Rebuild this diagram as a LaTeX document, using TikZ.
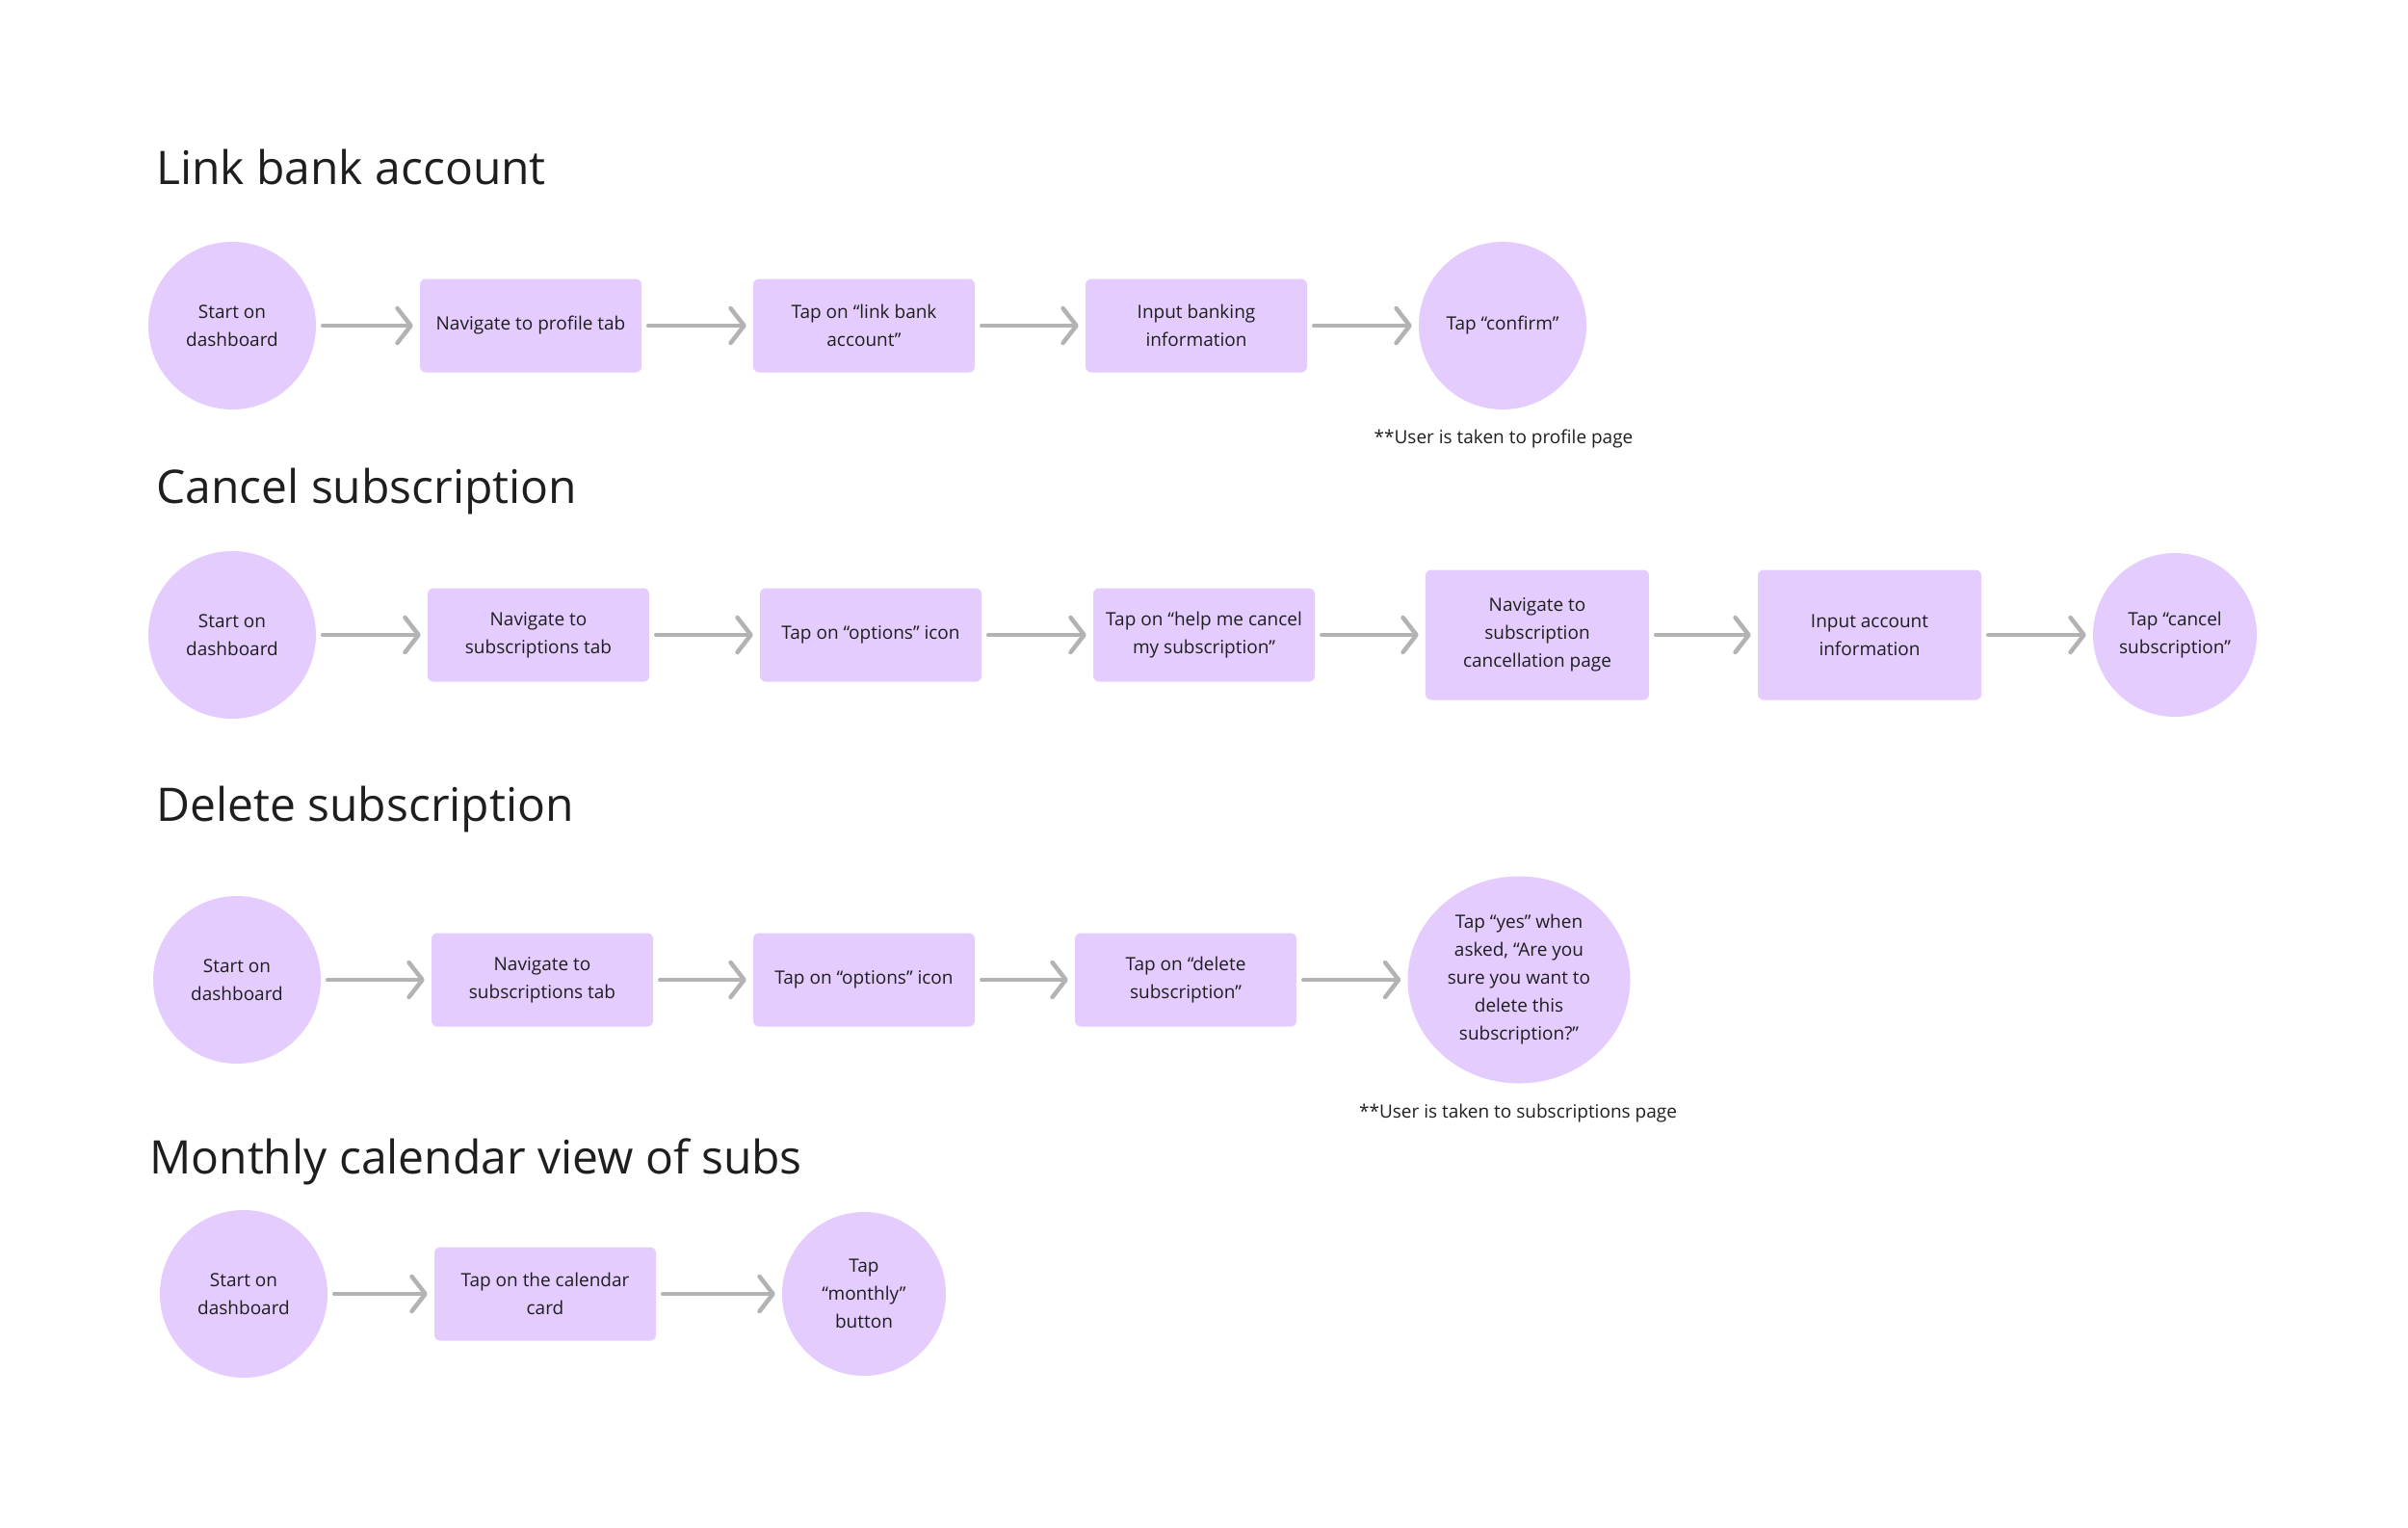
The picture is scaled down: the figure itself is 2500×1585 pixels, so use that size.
\documentclass[tikz,border=0pt]{standalone}
\usepackage{fontspec}
\setmainfont{Open Sans}
\usetikzlibrary{arrows.meta, shapes.geometric}

\definecolor{stepfill}{HTML}{E4CCFF}
\definecolor{flowgray}{HTML}{B3B3B3}
\definecolor{inktext}{HTML}{1E1E1E}

\tikzset{
    startnode/.style={circle, fill=stepfill, minimum size=174pt, inner sep=0pt,
        align=center, text=inktext, font=\fontsize{19}{29}\selectfont},
    boxnode/.style={rectangle, rounded corners=6pt, fill=stepfill, minimum width=230pt,
        minimum height=97pt, inner sep=0pt, align=center, text=inktext,
        font=\fontsize{19}{29}\selectfont},
    flow/.style={draw=flowgray, line width=4.5pt, line cap=round,
        -{Straight Barb[length=14pt, width=36pt, round]}, shorten <=7pt, shorten >=7pt},
    heading/.style={anchor=base west, inner sep=0pt, text=inktext,
        font=\fontsize{48}{52}\selectfont},
    remark/.style={inner sep=0pt, text=inktext, font=\fontsize{19}{24}\selectfont}
}

\begin{document}
\begin{tikzpicture}[x=1pt, y=-1pt]
    \useasboundingbox (0,0) rectangle (2500,1585);

    % Link bank account
    \node[heading] (hlink) at (162,191) {Link bank account};
    \node[startnode] (l1) at (241,338) {Start on\\dashboard};
    \node[boxnode] (l2) at (551,338) {Navigate to profile tab};
    \node[boxnode] (l3) at (897,338) {Tap on “link bank\\account”};
    \node[boxnode] (l4) at (1242,338) {Input banking\\information};
    \node[startnode] (l5) at (1560,338) {Tap “confirm”};
    \node[remark] (nlink) at (1561,456) {**User is taken to profile page};
    \draw[flow] (l1) -- (l2);
    \draw[flow] (l2) -- (l3);
    \draw[flow] (l3) -- (l4);
    \draw[flow] (l4) -- (l5);

    % Cancel subscription
    \node[heading] (hcancel) at (162,522) {Cancel subscription};
    \node[startnode] (c1) at (241,659) {Start on\\dashboard};
    \node[boxnode] (c2) at (559,659) {Navigate to\\subscriptions tab};
    \node[boxnode] (c3) at (904,659) {Tap on “options” icon};
    \node[boxnode] (c4) at (1250,659) {Tap on “help me cancel\\my subscription”};
    \node[boxnode, minimum width=232pt, minimum height=135pt] (c5) at (1596,659)
        {Navigate to\\subscription\\cancellation page};
    \node[boxnode, minimum width=232pt, minimum height=135pt] (c6) at (1941,659)
        {Input account\\information};
    \node[startnode, minimum size=170pt] (c7) at (2258,659) {Tap “cancel\\subscription”};
    \draw[flow] (c1) -- (c2);
    \draw[flow] (c2) -- (c3);
    \draw[flow] (c3) -- (c4);
    \draw[flow] (c4) -- (c5);
    \draw[flow] (c5) -- (c6);
    \draw[flow] (c6) -- (c7);

    % Delete subscription
    \node[heading] (hdelete) at (162,852) {Delete subscription};
    \node[startnode] (d1) at (246,1017) {Start on\\dashboard};
    \node[boxnode] (d2) at (563,1017) {Navigate to\\subscriptions tab};
    \node[boxnode] (d3) at (897,1017) {Tap on “options” icon};
    \node[boxnode] (d4) at (1231,1017) {Tap on “delete\\subscription”};
    \node[startnode, ellipse, minimum width=231pt, minimum height=215pt] (d5) at (1577,1017)
        {Tap “yes” when\\asked, “Are you\\sure you want to\\delete this\\subscription?”};
    \node[remark] (ndelete) at (1576,1156) {**User is taken to subscriptions page};
    \draw[flow] (d1) -- (d2);
    \draw[flow] (d2) -- (d3);
    \draw[flow] (d3) -- (d4);
    \draw[flow] (d4) -- (d5);

    % Monthly calendar view of subs
    \node[heading] (hmonth) at (155,1218) {Monthly calendar view of subs};
    \node[startnode] (m1) at (253,1343) {Start on\\dashboard};
    \node[boxnode] (m2) at (566,1343) {Tap on the calendar\\card};
    \node[startnode, minimum size=170pt] (m3) at (897,1343) {Tap\\“monthly”\\button};
    \draw[flow] (m1) -- (m2);
    \draw[flow] (m2) -- (m3);
\end{tikzpicture}
\end{document}
